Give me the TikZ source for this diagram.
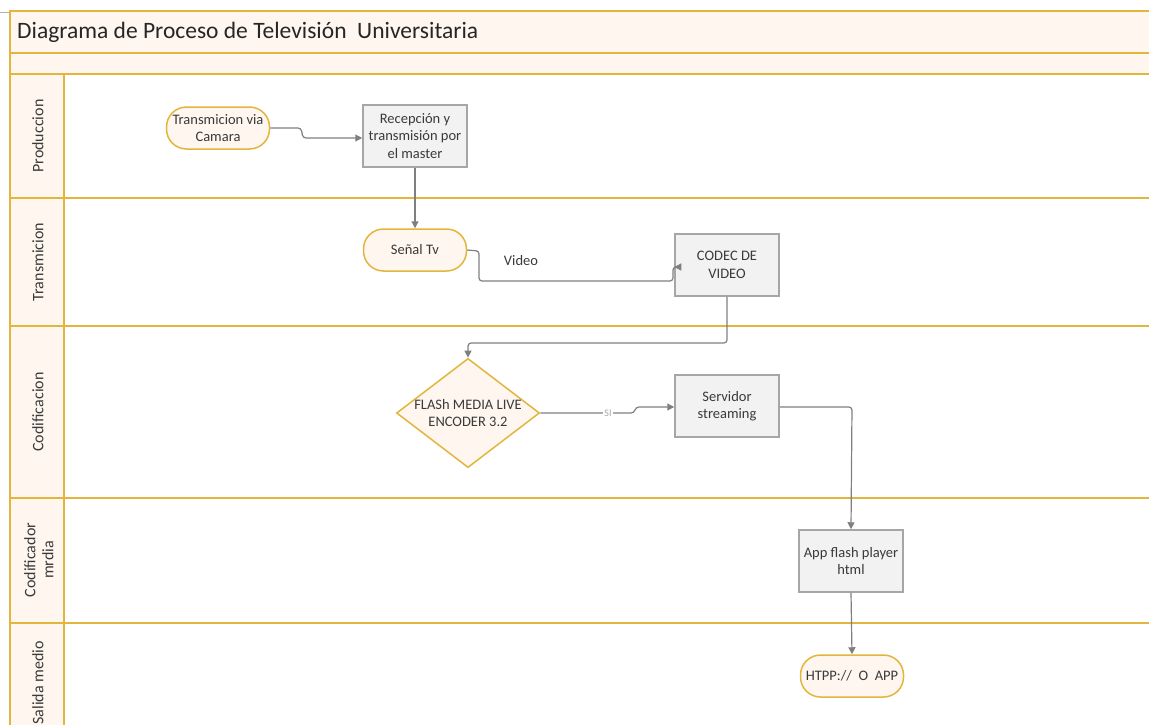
\documentclass[tikz,border=0pt]{standalone}
\usepackage{fontspec}
\setmainfont{Carlito}
\usetikzlibrary{arrows.meta,shapes.geometric}
\definecolor{lanegold}{HTML}{E2B63C}
\definecolor{cream}{HTML}{FEF6EF}
\definecolor{boxfill}{HTML}{F2F2F2}
\definecolor{boxedge}{HTML}{A6A6A6}
\definecolor{wire}{HTML}{7F7F7F}
\definecolor{ink}{HTML}{3A3A3A}
\tikzset{
  x=1pt, y=-1pt,
  laneline/.style={draw=lanegold, line width=2pt},
  lanelabel/.style={rotate=90, font=\fontsize{16}{18}\selectfont, text=ink, align=center},
  terminal/.style={draw=lanegold, line width=1.5pt, fill=cream, rounded corners=20pt,
    minimum width=103pt, minimum height=42pt, inner sep=1pt, align=center,
    font=\fontsize{14.5}{16.5}\selectfont, text=ink},
  process/.style={draw=boxedge, line width=1.5pt, fill=boxfill,
    minimum width=104pt, minimum height=62pt, inner sep=1pt, align=center,
    font=\fontsize{14.5}{17.5}\selectfont, text=ink},
  decision/.style={diamond, draw=lanegold, line width=1.5pt, fill=cream, aspect=1.31,
    minimum width=143pt, minimum height=109pt, inner sep=0pt, align=center,
    font=\fontsize{14.5}{17}\selectfont, text=ink},
  flow/.style={draw=wire, line width=1.2pt, rounded corners=3pt,
    -{Triangle[length=7pt,width=7pt]}},
  flowlabel/.style={font=\fontsize{14.5}{16}\selectfont, text=ink, inner sep=1pt}
}
\begin{document}
\begin{tikzpicture}
\useasboundingbox (0,0) rectangle (1149,724);
% pool background bands and lane header cells
\fill[cream] (10,11) rectangle (1160,74);
\fill[cream] (10,74) rectangle (64,730);
\draw[draw=wire!60, line width=0.6pt] (0,12) -- (10,12);
% pool frame and lane separators
\draw[laneline] (1160,11) -- (10,11) -- (10,730);
\draw[laneline] (10,53) -- (1160,53);
\draw[laneline] (10,74) -- (1160,74);
\draw[laneline] (64,74) -- (64,730);
\draw[laneline] (10,198) -- (1160,198);
\draw[laneline] (10,326) -- (1160,326);
\draw[laneline] (10,498) -- (1160,498);
\draw[laneline] (10,623) -- (1160,623);

% title and lane names
\node[anchor=west, font=\fontsize{23.5}{28}\selectfont, text=black!85, inner sep=0pt] (title) at (17,32) {Diagrama de Proceso de Televisión\ \ Universitaria};
\node[lanelabel] (l1) at (38,136) {Produccion};
\node[lanelabel] (l2) at (38,262) {Transmicion};
\node[lanelabel] (l3) at (38,412) {Codificacion};
\node[lanelabel] (l4) at (39,560) {Codificador\\mrdia};
\node[lanelabel] (l5) at (38,683) {Salida medio};

% process steps
\node[terminal] (cam) at (218,128) {Transmicion via\\Camara};
\node[process] (rec) at (415,136) {Recepción y\\transmisión por\\el master};
\node[terminal] (tv) at (415,250) {Señal Tv};
\node[process] (codec) at (727,265) {CODEC DE\\VIDEO};
\node[decision] (fmle) at (468,413) {FLASh MEDIA LIVE\\ENCODER 3.2};
\node[process] (srv) at (727,406) {Servidor\\streaming};
\node[process] (app) at (851,561) {App flash player\\html};
\node[terminal] (out) at (852,676) {HTPP://\ \ O\ \ APP};

% connectors
\draw[flow] (cam.east) -- (301,128) -- (303,138) -- (rec.west |- 0,138);
\draw[flow] (rec.south) -- (tv.north);
\draw[flow] (tv.east) -- (479,251) -- (479,281) -- (673,281) -- (673,267) -- (codec.west |- 0,267);
\node[flowlabel] (lvideo) at (521,261) {Video};
\draw[flow] (codec.south) -- (727,343) -- (468,343) -- (fmle.north);
\draw[flow] (fmle.east) -- (634,413) -- (636,407) -- (srv.west |- 0,407);
\node[flowlabel, fill=white, text=black!35, font=\fontsize{10}{11}\selectfont] (lsi) at (608,413) {SI};
\draw[flow] (srv.east |- 0,407) -- (852,407) -- (app.north);
\draw[flow] (app.south) -- (out.north);
\end{tikzpicture}
\end{document}
